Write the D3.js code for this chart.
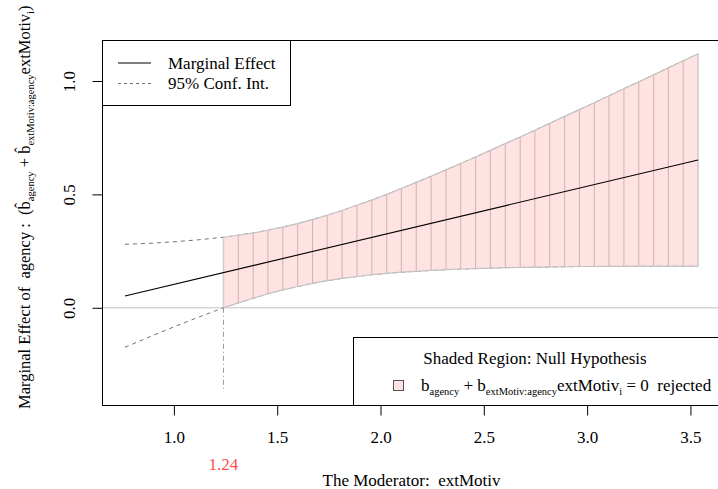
<!DOCTYPE html>
<html>
<head>
<meta charset="utf-8">
<script src="https://cdn.jsdelivr.net/npm/d3@7"></script>
<style>
  body { margin: 0; background: #ffffff; }
  svg text { font-family: "Liberation Serif", "Times New Roman", serif; }
</style>
</head>
<body>
<script>
var w = 718;
var h = 489;

// moderator values and estimates (marginal effect with 95% band)
var meX = [0.763, 3.537];
var meY = [0.052, 0.652];

var leftX = [0.763, 0.880, 1.000, 1.120, 1.240];
var leftUpper = [0.280, 0.284, 0.291, 0.300, 0.311];
var leftLower = [-0.174, -0.129, -0.084, -0.041, 0.000];

var shadeX = [1.240, 1.312, 1.384, 1.455, 1.527, 1.599, 1.671, 1.742, 1.814, 1.886, 1.958,
  2.030, 2.101, 2.173, 2.245, 2.317, 2.388, 2.460, 2.532, 2.604, 2.676, 2.747,
  2.819, 2.891, 2.963, 3.035, 3.106, 3.178, 3.250, 3.322, 3.393, 3.465, 3.537];
var shadeUpper = [0.311, 0.320, 0.330, 0.342, 0.356, 0.371, 0.389, 0.408, 0.429, 0.452, 0.475,
  0.500, 0.526, 0.553, 0.580, 0.608, 0.636, 0.665, 0.694, 0.724, 0.753, 0.783,
  0.813, 0.844, 0.874, 0.904, 0.935, 0.966, 0.996, 1.027, 1.058, 1.089, 1.120];
var shadeLower = [0.000, 0.022, 0.042, 0.062, 0.079, 0.094, 0.108, 0.120, 0.130, 0.138, 0.146,
  0.152, 0.157, 0.161, 0.165, 0.168, 0.171, 0.173, 0.175, 0.177, 0.178, 0.179,
  0.180, 0.181, 0.182, 0.182, 0.183, 0.183, 0.184, 0.184, 0.184, 0.184, 0.184];

var jnPoint = 1.24;
var xTicks = [1.0, 1.5, 2.0, 2.5, 3.0, 3.5];
var yTicks = [0.0, 0.5, 1.0];

var fontSize = 17;
var subSize = 10.5;
var pink = "#ffe2e2";

var plot = { left: 102, right: 721, top: 40, bottom: 405 };

var x = d3.scaleLinear().domain([0.652, 3.648]).range([plot.left, plot.right]);
var y = d3.scaleLinear().domain([-0.4286, 1.1808]).range([plot.bottom, plot.top]);

var svg = d3.select("body").append("svg").attr("width", w).attr("height", h);

var ciX = leftX.concat(shadeX.slice(1));
var ciUpper = leftUpper.concat(shadeUpper.slice(1));
var ciLower = leftLower.concat(shadeLower.slice(1));

// zero reference line
svg.append("line")
  .attr("x1", plot.left).attr("x2", w)
  .attr("y1", y(0)).attr("y2", y(0))
  .attr("stroke", "#c4c4c4").attr("stroke-width", 1);

// dashed confidence bounds
var ciLine = d3.line()
  .x(function (d) { return x(d[0]); })
  .y(function (d) { return y(d[1]); });

[ciUpper, ciLower].forEach(function (band) {
  svg.append("path")
    .datum(ciX.map(function (v, i) { return [v, band[i]]; }))
    .attr("d", ciLine)
    .attr("fill", "none")
    .attr("stroke", "#707070")
    .attr("stroke-width", 1)
    .attr("stroke-dasharray", "4,4");
});

// shaded region where the effect is significant
var shadeData = shadeX.map(function (v, i) {
  return { x: v, lo: shadeLower[i], hi: shadeUpper[i] };
});

svg.append("path")
  .datum(shadeData)
  .attr("d", d3.area()
    .x(function (d) { return x(d.x); })
    .y0(function (d) { return y(d.lo); })
    .y1(function (d) { return y(d.hi); }))
  .attr("fill", pink);

svg.selectAll("line.seg")
  .data(shadeData)
  .enter()
  .append("line")
  .attr("class", "seg")
  .attr("x1", function (d) { return x(d.x); })
  .attr("x2", function (d) { return x(d.x); })
  .attr("y1", function (d) { return y(d.lo); })
  .attr("y2", function (d) { return y(d.hi); })
  .attr("stroke", function (d, i) {
    return i === 0 || i === shadeData.length - 1 ? "#cfcfcf" : "#d3b7b7";
  })
  .attr("stroke-width", function (d, i) {
    return i === 0 || i === shadeData.length - 1 ? 1.6 : 1.1;
  });

["hi", "lo"].forEach(function (key) {
  svg.append("path")
    .datum(shadeData)
    .attr("d", d3.line()
      .x(function (d) { return x(d.x); })
      .y(function (d) { return y(d[key]); }))
    .attr("fill", "none")
    .attr("stroke", "#c2c2c2")
    .attr("stroke-width", 1.2);
});

// marginal effect line
svg.append("path")
  .datum(meX.map(function (v, i) { return [v, meY[i]]; }))
  .attr("d", ciLine)
  .attr("fill", "none")
  .attr("stroke", "#000000")
  .attr("stroke-width", 1.1);

// Johnson-Neyman cutoff
svg.append("line")
  .attr("x1", x(jnPoint)).attr("x2", x(jnPoint))
  .attr("y1", y(0)).attr("y2", 392)
  .attr("stroke", "#9a9a9a")
  .attr("stroke-width", 1)
  .attr("stroke-dasharray", "5,3,1,3");

// frame
svg.append("rect")
  .attr("x", plot.left + 0.5).attr("y", plot.top + 0.5)
  .attr("width", plot.right - plot.left).attr("height", plot.bottom - plot.top)
  .attr("fill", "none").attr("stroke", "#000000").attr("stroke-width", 1);

// axes
var xAxis = svg.append("g")
  .attr("transform", "translate(0," + (plot.bottom + 0.5) + ")")
  .call(d3.axisBottom(x).tickValues(xTicks).tickSize(10).tickFormat(d3.format(".1f")));
xAxis.select(".domain").remove();
xAxis.selectAll("line").attr("stroke", "#000000");
xAxis.selectAll("text")
  .attr("y", 37.5).attr("dy", null)
  .attr("fill", "#000000")
  .style("font-size", fontSize + "px")
  .style("font-family", "Liberation Serif");

var yAxis = svg.append("g")
  .attr("transform", "translate(" + (plot.left + 0.5) + ",0)")
  .call(d3.axisLeft(y).tickValues(yTicks).tickSize(10).tickFormat(d3.format(".1f")));
yAxis.select(".domain").remove();
yAxis.selectAll("line").attr("stroke", "#000000");
yAxis.selectAll("text")
  .attr("x", null).attr("dy", null)
  .attr("transform", "translate(-28,0) rotate(-90)")
  .attr("text-anchor", "middle")
  .attr("fill", "#000000")
  .style("font-size", fontSize + "px")
  .style("font-family", "Liberation Serif");

svg.append("text")
  .attr("x", x(jnPoint)).attr("y", 470)
  .attr("text-anchor", "middle")
  .attr("fill", "#ff5050")
  .style("font-size", fontSize + "px")
  .text("1.24");

svg.append("text")
  .attr("x", (plot.left + plot.right) / 2).attr("y", 486)
  .attr("text-anchor", "middle")
  .style("font-size", fontSize + "px")
  .style("white-space", "pre")
  .text("The Moderator:  extMotiv");

// y label with hatted coefficients
var yLab = svg.append("text")
  .attr("transform", "translate(30,409) rotate(-90)")
  .style("font-size", "16.5px")
  .style("white-space", "pre");
yLab.append("tspan").text("Marginal Effect of  agency :  (");
yLab.append("tspan").text("b\u0302");
yLab.append("tspan").attr("dy", 4).style("font-size", subSize + "px").text("agency");
yLab.append("tspan").attr("dy", -4).text(" + ");
yLab.append("tspan").text("b\u0302");
yLab.append("tspan").attr("dy", 4).style("font-size", subSize + "px").text("extMotiv:agency");
yLab.append("tspan").attr("dy", -4).text("extMotiv");
yLab.append("tspan").attr("dy", 4).style("font-size", subSize + "px").text("i");
yLab.append("tspan").attr("dy", -4).text(")");

// top-left legend
var leg1 = svg.append("g");
leg1.append("rect")
  .attr("x", plot.left + 0.5).attr("y", plot.top + 0.5)
  .attr("width", 188).attr("height", 65)
  .attr("fill", "#ffffff").attr("stroke", "#000000");
leg1.append("line")
  .attr("x1", 118).attr("x2", 151).attr("y1", 63).attr("y2", 63)
  .attr("stroke", "#000000").attr("stroke-width", 1.1);
leg1.append("line")
  .attr("x1", 118).attr("x2", 151).attr("y1", 83.5).attr("y2", 83.5)
  .attr("stroke", "#707070").attr("stroke-dasharray", "3,3");
leg1.append("text").attr("x", 168).attr("y", 68.5).style("font-size", fontSize + "px").text("Marginal Effect");
leg1.append("text").attr("x", 168).attr("y", 88.5).style("font-size", fontSize + "px").text("95% Conf. Int.");

// bottom-right legend
var leg2 = svg.append("g");
leg2.append("rect")
  .attr("x", 353.5).attr("y", 337.5)
  .attr("width", 370).attr("height", 68)
  .attr("fill", "#ffffff").attr("stroke", "#000000");
leg2.append("text")
  .attr("x", 535).attr("y", 364)
  .attr("text-anchor", "middle")
  .style("font-size", fontSize + "px")
  .text("Shaded Region: Null Hypothesis");
leg2.append("rect")
  .attr("x", 393.5).attr("y", 380.5)
  .attr("width", 10).attr("height", 10)
  .attr("fill", pink).attr("stroke", "#555555");
var leg2Text = leg2.append("text")
  .attr("x", 421).attr("y", 391)
  .style("font-size", fontSize + "px")
  .style("white-space", "pre");
leg2Text.append("tspan").text("b");
leg2Text.append("tspan").attr("dy", 4).style("font-size", subSize + "px").text("agency");
leg2Text.append("tspan").attr("dy", -4).text(" + b");
leg2Text.append("tspan").attr("dy", 4).style("font-size", subSize + "px").text("extMotiv:agency");
leg2Text.append("tspan").attr("dy", -4).text("extMotiv");
leg2Text.append("tspan").attr("dy", 4).style("font-size", subSize + "px").text("i");
leg2Text.append("tspan").attr("dy", -4).text(" = 0  rejected");
</script>
</body>
</html>
